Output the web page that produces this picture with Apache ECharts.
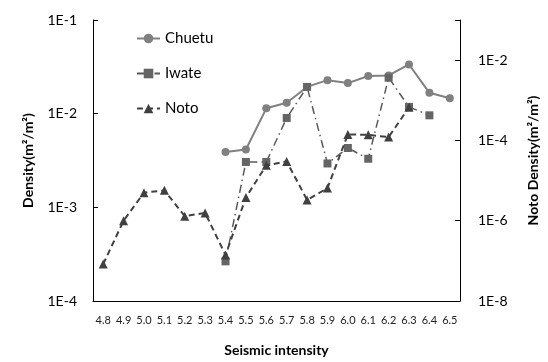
<!DOCTYPE html>
<html>
<head>
<meta charset="utf-8">
<script src="https://cdn.jsdelivr.net/npm/echarts@6/dist/echarts.min.js"></script>
<style>
  html, body { margin: 0; padding: 0; background: #fff; }
  #chart { width: 548px; height: 362px; }
</style>
</head>
<body>
<div id="chart"></div>
<script>
// seismic intensity classes
const intensity = ['4.8', '4.9', '5.0', '5.1', '5.2', '5.3', '5.4', '5.5', '5.6', '5.7', '5.8', '5.9', '6.0', '6.1', '6.2', '6.3', '6.4', '6.5'];

// left axis (m2/m2)
const chuetu = [null, null, null, null, null, null, 3.9e-3, 4.15e-3, 1.14e-2, 1.31e-2, 1.93e-2, 2.28e-2, 2.12e-2, 2.52e-2, 2.56e-2, 3.35e-2, 1.67e-2, 1.46e-2];
const iwate = [null, null, null, null, null, null, 2.65e-4, 3.05e-3, 3.05e-3, 9.0e-3, 1.93e-2, 2.94e-3, 4.3e-3, 3.3e-3, 2.42e-2, 1.18e-2, 9.6e-3, null];
// right axis (m2/m2)
const noto = [8.3e-8, 1.0e-6, 5.0e-6, 5.7e-6, 1.3e-6, 1.56e-6, 1.4e-7, 3.8e-6, 2.4e-5, 3.0e-5, 3.3e-6, 6.5e-6, 1.41e-4, 1.38e-4, 1.21e-4, 6.7e-4, null, null];

const font = 'Lato, "Liberation Sans", sans-serif';

function expLabel(v) {
  const e = Math.round(Math.log10(v));
  return '1E' + e;
}

const chart = echarts.init(document.getElementById('chart'));
chart.setOption({
  animation: false,
  textStyle: { fontFamily: font },
  grid: { left: 93, right: 86, top: 20, bottom: 58 },
  legend: {
    orient: 'vertical',
    left: 131,
    top: 26,
    itemWidth: 23,
    itemHeight: 12,
    itemGap: 20,
    textStyle: { fontSize: 15, color: '#000', fontFamily: font },
    data: ['Chuetu', 'Iwate', 'Noto']
  },
  xAxis: {
    type: 'category',
    data: intensity,
    name: 'Seismic intensity',
    nameLocation: 'middle',
    nameGap: 42,
    nameTextStyle: { fontSize: 14, fontWeight: 'bold', color: '#000' },
    axisLine: { lineStyle: { color: '#000', width: 1 } },
    axisTick: { inside: true, length: 4, lineStyle: { color: '#000' } },
    axisLabel: { interval: 0, fontSize: 11, color: '#222', margin: 14 }
  },
  yAxis: [
    {
      type: 'log',
      logBase: 10,
      min: 1e-4,
      max: 1e-1,
      name: 'Density(m²/m²)',
      nameLocation: 'middle',
      nameRotate: 90,
      nameGap: 58,
      nameTextStyle: { fontSize: 14, fontWeight: 'bold', color: '#000' },
      axisLine: { show: true, lineStyle: { color: '#000', width: 1 } },
      axisTick: { show: true, inside: true, length: 5, lineStyle: { color: '#000' } },
      axisLabel: { fontSize: 14, color: '#000', margin: 16, formatter: expLabel },
      splitLine: { show: false }
    },
    {
      type: 'log',
      logBase: 100,
      min: 1e-8,
      max: 1e-1,
      position: 'right',
      name: 'Noto Density(m²/m²)',
      nameLocation: 'middle',
      nameRotate: 90,
      nameGap: 66,
      nameTextStyle: { fontSize: 14, fontWeight: 'bold', color: '#000' },
      axisLine: { show: true, lineStyle: { color: '#000', width: 1 } },
      axisTick: { show: true, inside: true, length: 5, lineStyle: { color: '#000' } },
      axisLabel: {
        fontSize: 14, color: '#000', margin: 18,
        formatter: function (v) {
          const e = Math.round(Math.log10(v));
          return e % 2 === 0 ? '1E' + e : '';
        }
      },
      splitLine: { show: false }
    }
  ],
  series: [
    {
      name: 'Chuetu',
      type: 'line',
      data: chuetu,
      yAxisIndex: 0,
      symbol: 'circle',
      symbolSize: 8,
      itemStyle: { color: '#808080' },
      lineStyle: { color: '#808080', width: 2 },
      z: 3
    },
    {
      name: 'Iwate',
      type: 'line',
      data: iwate,
      yAxisIndex: 0,
      symbol: 'rect',
      symbolSize: 8,
      itemStyle: { color: '#656565' },
      lineStyle: { color: '#595959', width: 1.5, type: [8, 4, 1.5, 4] },
      z: 4
    },
    {
      name: 'Noto',
      type: 'line',
      data: noto,
      yAxisIndex: 1,
      symbol: 'triangle',
      symbolSize: 9,
      itemStyle: { color: '#404040' },
      lineStyle: { color: '#404040', width: 2, type: [6, 4] },
      z: 5
    }
  ]
});
</script>
</body>
</html>
